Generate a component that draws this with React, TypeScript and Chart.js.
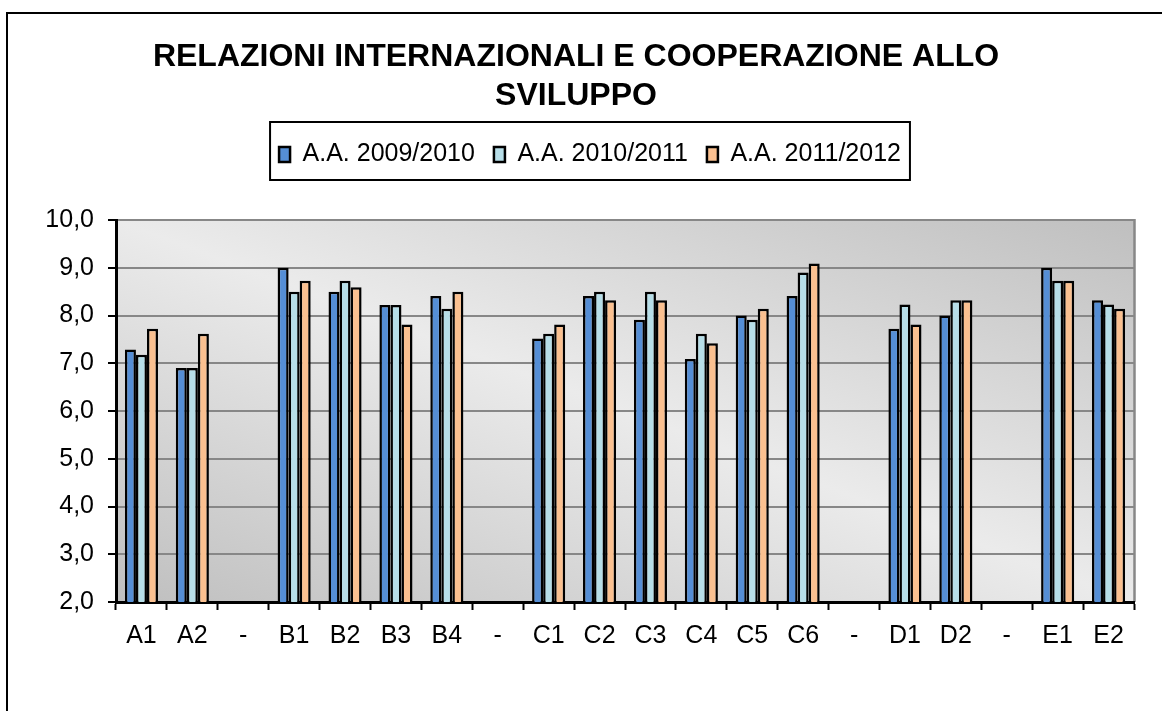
import React, { useEffect, useRef } from 'react';
import { Chart, registerables } from 'chart.js';

Chart.register(...registerables);

const FONT = "'Liberation Sans', Arial, Helvetica, sans-serif";

const titleLines = ['RELAZIONI INTERNAZIONALI E COOPERAZIONE ALLO', 'SVILUPPO'];

const categories = ['A1', 'A2', '-', 'B1', 'B2', 'B3', 'B4', '-', 'C1', 'C2', 'C3', 'C4', 'C5', 'C6', '-', 'D1', 'D2', '-', 'E1', 'E2'];

const seriesLabels = ['A.A. 2009/2010', 'A.A. 2010/2011', 'A.A. 2011/2012'];
const seriesColors = ['#558ED5', '#B7DEE8', '#FAC090'];

const values2009 = [7.29, 6.9, null, 9.0, 8.5, 8.22, 8.41, null, 7.52, 8.41, 7.91, 7.09, 8.0, 8.41, null, 7.72, 8.0, null, 9.0, 8.32];
const values2010 = [7.18, 6.9, null, 8.5, 8.73, 8.22, 8.14, null, 7.62, 8.5, 8.5, 7.62, 7.91, 8.9, null, 8.23, 8.32, null, 8.73, 8.23];
const values2011 = [7.72, 7.62, null, 8.73, 8.59, 7.81, 8.5, null, 7.81, 8.32, 8.32, 7.42, 8.14, 9.09, null, 7.81, 8.32, null, 8.73, 8.14];

const Y_MIN = 2;
const Y_MAX = 10;
const Y_STEP = 1;

const decorPlugin = {
  id: 'decor',
  beforeDraw(chart: any) {
    const { ctx, width, height, chartArea: a } = chart;
    ctx.save();
    ctx.fillStyle = '#ffffff';
    ctx.fillRect(0, 0, width, height);
    ctx.restore();

    // plot area diagonal gradient
    ctx.save();
    ctx.translate(a.left, a.top);
    ctx.scale(a.right - a.left, a.bottom - a.top);
    const g = ctx.createLinearGradient(0, 1, 1, 0);
    g.addColorStop(0, '#bfbfbf');
    g.addColorStop(0.5, '#ebebeb');
    g.addColorStop(1, '#bfbfbf');
    ctx.fillStyle = g;
    ctx.fillRect(0, 0, 1, 1);
    ctx.restore();

    // right edge of plot area
    ctx.save();
    ctx.strokeStyle = '#878787';
    ctx.lineWidth = 2.5;
    ctx.beginPath();
    ctx.moveTo(a.right + 0.5, a.top - 1);
    ctx.lineTo(a.right + 0.5, a.bottom);
    ctx.stroke();
    ctx.restore();

    // outer frame (cropped on right/bottom)
    ctx.save();
    ctx.strokeStyle = '#000';
    ctx.lineWidth = 2;
    ctx.beginPath();
    ctx.moveTo(7, height + 2);
    ctx.lineTo(7, 13);
    ctx.lineTo(width + 2, 13);
    ctx.stroke();
    ctx.restore();

    // title
    ctx.save();
    ctx.fillStyle = '#000';
    ctx.font = `bold 32px ${FONT}`;
    ctx.textAlign = 'center';
    ctx.textBaseline = 'alphabetic';
    ctx.fillText(titleLines[0], 576, 66);
    ctx.fillText(titleLines[1], 576, 105);
    ctx.restore();
  },
  afterDraw(chart: any) {
    const { ctx } = chart;
    const hb = chart.legend && chart.legend.legendHitBoxes;
    if (!hb || !hb.length) return;
    const first = hb[0];
    const last = hb[hb.length - 1];
    const x0 = first.left - 9;
    const x1 = last.left + last.width + 9;
    const y0 = first.top - 20;
    const y1 = first.top + first.height + 13;
    ctx.save();
    ctx.strokeStyle = '#000';
    ctx.lineWidth = 2;
    ctx.strokeRect(x0, y0, x1 - x0, y1 - y0);
    ctx.restore();
  },
};

export default function App() {
  const canvasRef = useRef<HTMLCanvasElement | null>(null);

  useEffect(() => {
    if (!canvasRef.current) return;
    const seriesValues = [values2009, values2010, values2011];
    const chart = new Chart(canvasRef.current, {
      type: 'bar',
      data: {
        labels: categories,
        datasets: seriesValues.map((vals, i) => ({
          label: seriesLabels[i],
          data: vals,
          backgroundColor: seriesColors[i],
          borderColor: '#000000',
          borderWidth: 2.5,
          barPercentage: 1,
          categoryPercentage: 0.65,
        })),
      },
      options: {
        responsive: false,
        animation: false,
        layout: { padding: { top: 123, left: 46, right: 28, bottom: 59 } },
        plugins: {
          title: { display: false },
          subtitle: {
            display: true,
            text: '',
            position: 'top',
            weight: 500,
            font: { size: 10, family: FONT },
            padding: { top: 0, bottom: 31 },
          } as any,
          legend: {
            display: true,
            position: 'top',
            labels: {
              boxWidth: 11,
              boxHeight: 15,
              padding: 19,
              color: '#000',
              font: { size: 25, family: FONT },
            },
          },
          tooltip: { enabled: false },
        },
        scales: {
          x: {
            grid: {
              display: true,
              drawOnChartArea: false,
              drawTicks: true,
              tickLength: 8,
              tickColor: '#000',
              tickWidth: 2,
              offset: true,
            },
            border: { display: true, color: '#000', width: 3 },
            ticks: {
              color: '#000',
              font: { size: 25, family: FONT },
              padding: 11,
              autoSkip: false,
              maxRotation: 0,
              minRotation: 0,
            },
            afterFit: (s: any) => {
              s.height = 50;
            },
          },
          y: {
            min: Y_MIN,
            max: Y_MAX,
            ticks: {
              stepSize: Y_STEP,
              color: '#000',
              font: { size: 25, family: FONT },
              padding: 14,
              callback: (v: any) => Number(v).toFixed(1).replace('.', ','),
            },
            grid: {
              color: '#878787',
              lineWidth: 2,
              tickColor: '#000',
              tickWidth: 2,
              tickLength: 8,
            },
            border: { display: true, color: '#000', width: 3 },
            afterFit: (s: any) => {
              s.width = 70;
            },
          },
        },
      },
      plugins: [decorPlugin],
    });
    return () => chart.destroy();
  }, []);

  return (
    <div style={{ position: 'fixed', left: 0, top: 0, width: 1162, height: 711, background: '#fff' }}>
      <canvas ref={canvasRef} width={1162} height={711} style={{ display: 'block' }} />
    </div>
  );
}
